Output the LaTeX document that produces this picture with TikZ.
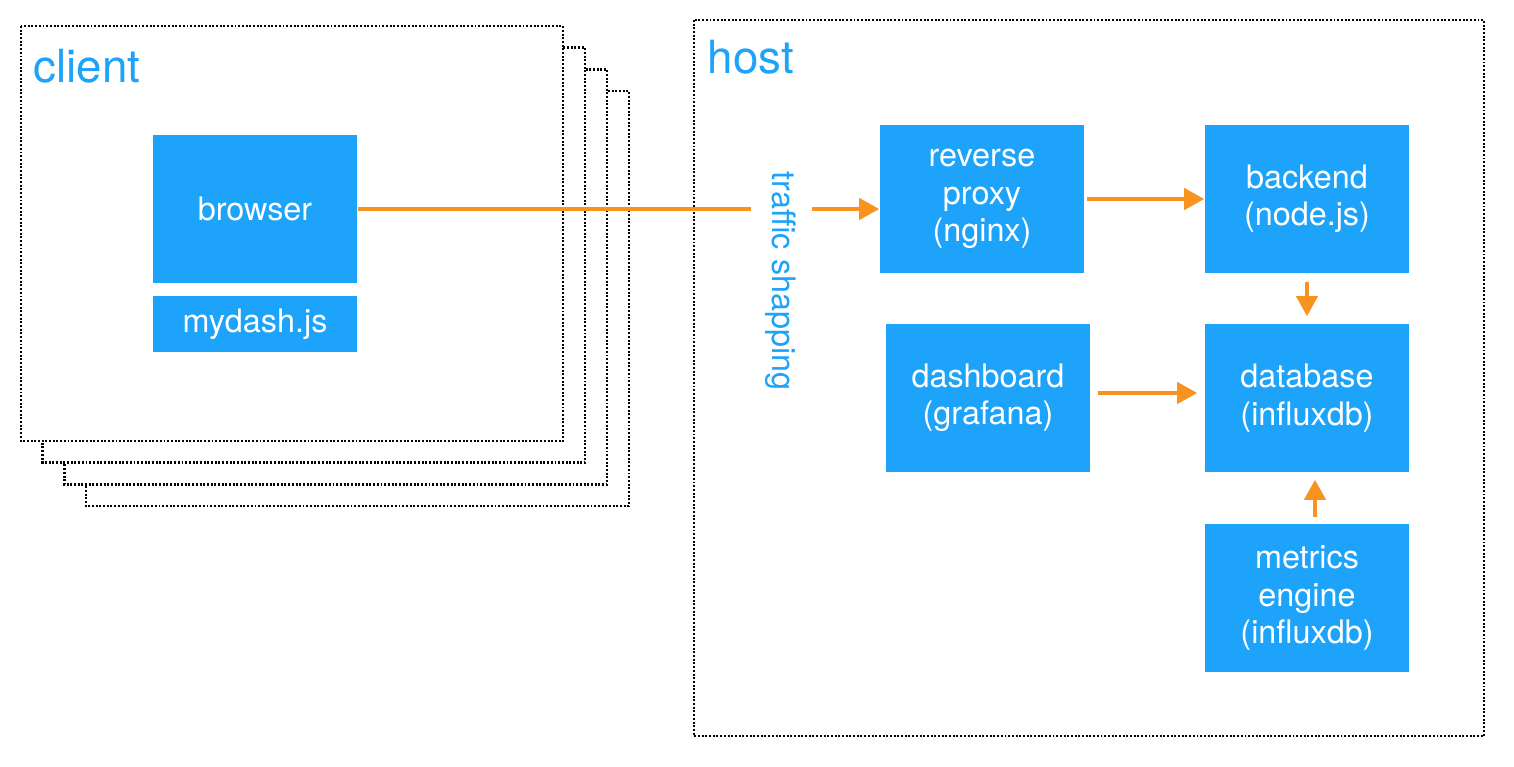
\documentclass[tikz,border=0pt]{standalone}
\usepackage{fontspec}
\setmainfont{TeX Gyre Heros}
\usetikzlibrary{arrows.meta}
\definecolor{boxblue}{RGB}{30,163,250}
\definecolor{flow}{RGB}{247,147,30}
\begin{document}
\begin{tikzpicture}[x=0.01cm, y=-0.01cm,
    box/.style={fill=boxblue, text=white, minimum width=2.04cm, minimum height=1.48cm, align=center, inner sep=0pt, font=\fontsize{9.2pt}{10.6pt}\selectfont},
    frame/.style={line width=0.7pt, dash pattern=on 0.55pt off 0.5pt},
    label/.style={text=boxblue, inner sep=0pt, font=\fontsize{13pt}{15pt}\selectfont},
    flowline/.style={draw=flow, line width=1.15pt, -{Triangle[length=0.2cm, width=0.21cm]}}]
    \useasboundingbox (0,0) rectangle (1514,766);

    % Frames
    \foreach \i in {3,2,1,0}
        \draw[frame, fill=white] (21+21.7*\i,26+21.7*\i) rectangle (563+22*\i,441+21.7*\i);
    \draw[frame] (694,20) rectangle (1484,736);
    \node[label, anchor=base west] (client) at (33,82) {client};
    \node[label, anchor=base west] (host) at (707,73) {host};

    % Nodes
    \node[box] (browser) at (255,209) {browser};
    \node[box, minimum height=0.56cm] (mydash) at (255,324) {mydash.js};
    \node[box] (proxy) at (982,199) {reverse\\proxy\\(nginx)};
    \node[box] (backend) at (1307,199) {backend\\(node.js)};
    \node[box] (dashboard) at (988,398) {dashboard\\(grafana)};
    \node[box] (database) at (1307,398) {database\\(influxdb)};
    \node[box] (metrics) at (1307,598) {metrics\\engine\\(influxdb)};
    \node[rotate=-90, text=boxblue, inner sep=0pt, font=\fontsize{9.2pt}{10.6pt}\selectfont] (traffic) at (781,281) {traffic shapping};
    \coordinate (gapL) at (751,209);
    \coordinate (gapR) at (812,209);

    % Arrows
    \draw[draw=flow, line width=1.15pt] (browser.east |- gapL) -- (gapL);
    \draw[flowline] (gapR) -- (gapR -| proxy.west);
    \draw[flowline, shorten <=0.02cm] (proxy) -- (backend);
    \draw[flowline, shorten <=0.08cm, shorten >=0.07cm] (backend) -- (database);
    \draw[flowline, shorten <=0.07cm, shorten >=0.07cm] ([yshift=0.05cm]dashboard.east) -- ([yshift=0.05cm]database.west);
    \draw[flowline, shorten <=0.06cm, shorten >=0.07cm] ([xshift=0.08cm]metrics.north) -- ([xshift=0.08cm]database.south);
\end{tikzpicture}
\end{document}
